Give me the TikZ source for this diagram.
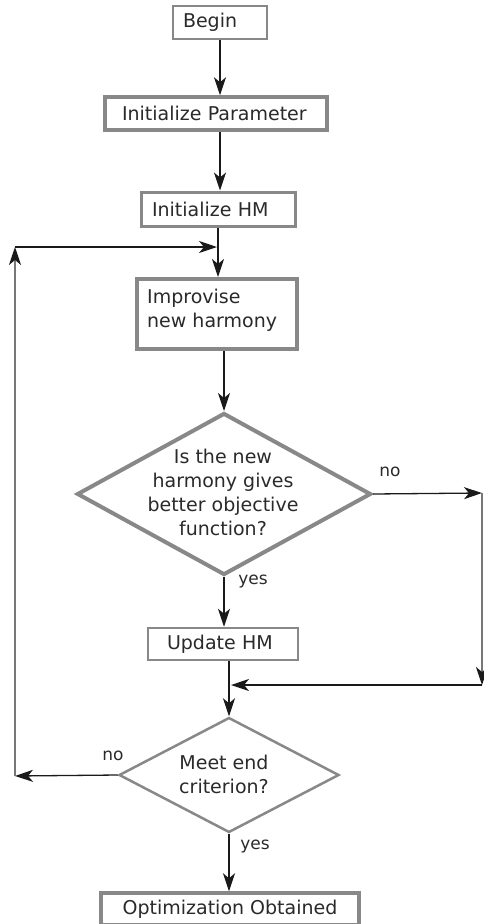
\documentclass[tikz,border=0pt]{standalone}
\usepackage{fontspec}
\setmainfont{DejaVu Sans}
\usetikzlibrary{arrows.meta,shapes.geometric}
\definecolor{bord}{HTML}{888888}
\definecolor{txt}{HTML}{2A2A2A}
\definecolor{conn}{HTML}{1A1A1A}
\definecolor{connlight}{HTML}{777777}
\begin{document}
\begin{tikzpicture}[x=1pt,y=-1pt,
  font=\fontsize{19}{24}\selectfont, text=txt,
  box/.style={draw=bord, fill=white, inner ysep=0pt, align=left},
  dia/.style={draw=bord, diamond, inner sep=0pt},
  lbl/.style={font=\fontsize{17}{20}\selectfont, inner sep=0pt},
  arr/.style={draw=conn, line width=1.3pt, -{Stealth[length=18pt,width=12pt,inset=5pt,color=conn]}},
  plain/.style={draw=conn, line width=1.3pt}]
\useasboundingbox (0,0) rectangle (484,924);

% boxes
\node[box, line width=2pt, inner xsep=10pt, text width=74pt, minimum height=33pt] (begin) at (220,22.5) {Begin};
\node[box, line width=3.5pt, inner xsep=17pt, text width=188pt, minimum height=33pt] (ip) at (216,113.5) {Initialize Parameter};
\node[box, line width=3pt, inner xsep=11pt, text width=132pt, minimum height=34pt] (hm) at (218,209) {Initialize HM};
\node[box, line width=4pt, minimum width=160pt, minimum height=70pt] (imp) at (217,314) {};
\node[inner sep=0pt, align=left, anchor=west] (impt) at (147,310) {Improvise\\new harmony};
\node[dia, line width=4pt, minimum width=294pt, minimum height=162pt] (d1) at (224,494) {};
\node[inner sep=0pt, align=center] (d1t) at (223,492) {Is the new\\harmony gives\\better objective\\function?};
\node[box, line width=2.5pt, inner xsep=19pt, text width=112pt, minimum height=32pt] (upd) at (223,644) {Update HM};
\node[dia, line width=2.5pt, minimum width=220pt, minimum height=115pt] (d2) at (229,775) {};
\node[inner sep=0pt, align=center] (d2t) at (224,774) {Meet end\\criterion?};
\node[box, line width=3.5pt, align=center, minimum width=258pt, minimum height=32pt] (opt) at (230,909) {Optimization Obtained};

% labels
\node[lbl] (no1) at (390,472) {no};
\node[lbl] (yes1) at (253,581) {yes};
\node[lbl] (no2) at (113,756) {no};
\node[lbl] (yes2) at (255,846) {yes};

% helper coordinates
\coordinate (cR1) at (482,493);
\coordinate (cR2) at (482,685);
\coordinate (cJ) at (231,685);
\coordinate (cL1) at (15,776);
\coordinate (cL2) at (15,247);
\coordinate (cL3) at (217,247);

% connectors
\draw[arr] (begin.south) -- (begin.south |- ip.north);
\draw[arr] (begin.south |- ip.south) -- (begin.south |- hm.north);
\draw[arr] (hm.south) -- (hm.south |- imp.north);
\draw[arr] (imp.south -| d1.north) -- (d1.north);
\draw[arr] (d1.east) -- (cR1);
\draw[arr, draw=connlight] (cR1) -- (cR2);
\draw[arr] (cR2) -- (cJ);
\draw[arr] (d1.south) -- (d1.south |- upd.north);
\draw[arr] (d2.north |- upd.south) -- (d2.north);
\draw[arr] (d2.west) -- (cL1);
\draw[arr, draw=connlight] (cL1) -- (cL2);
\draw[arr] (cL2) -- (cL3);
\draw[arr] (d2.south) -- (d2.south |- opt.north);
\end{tikzpicture}
\end{document}
